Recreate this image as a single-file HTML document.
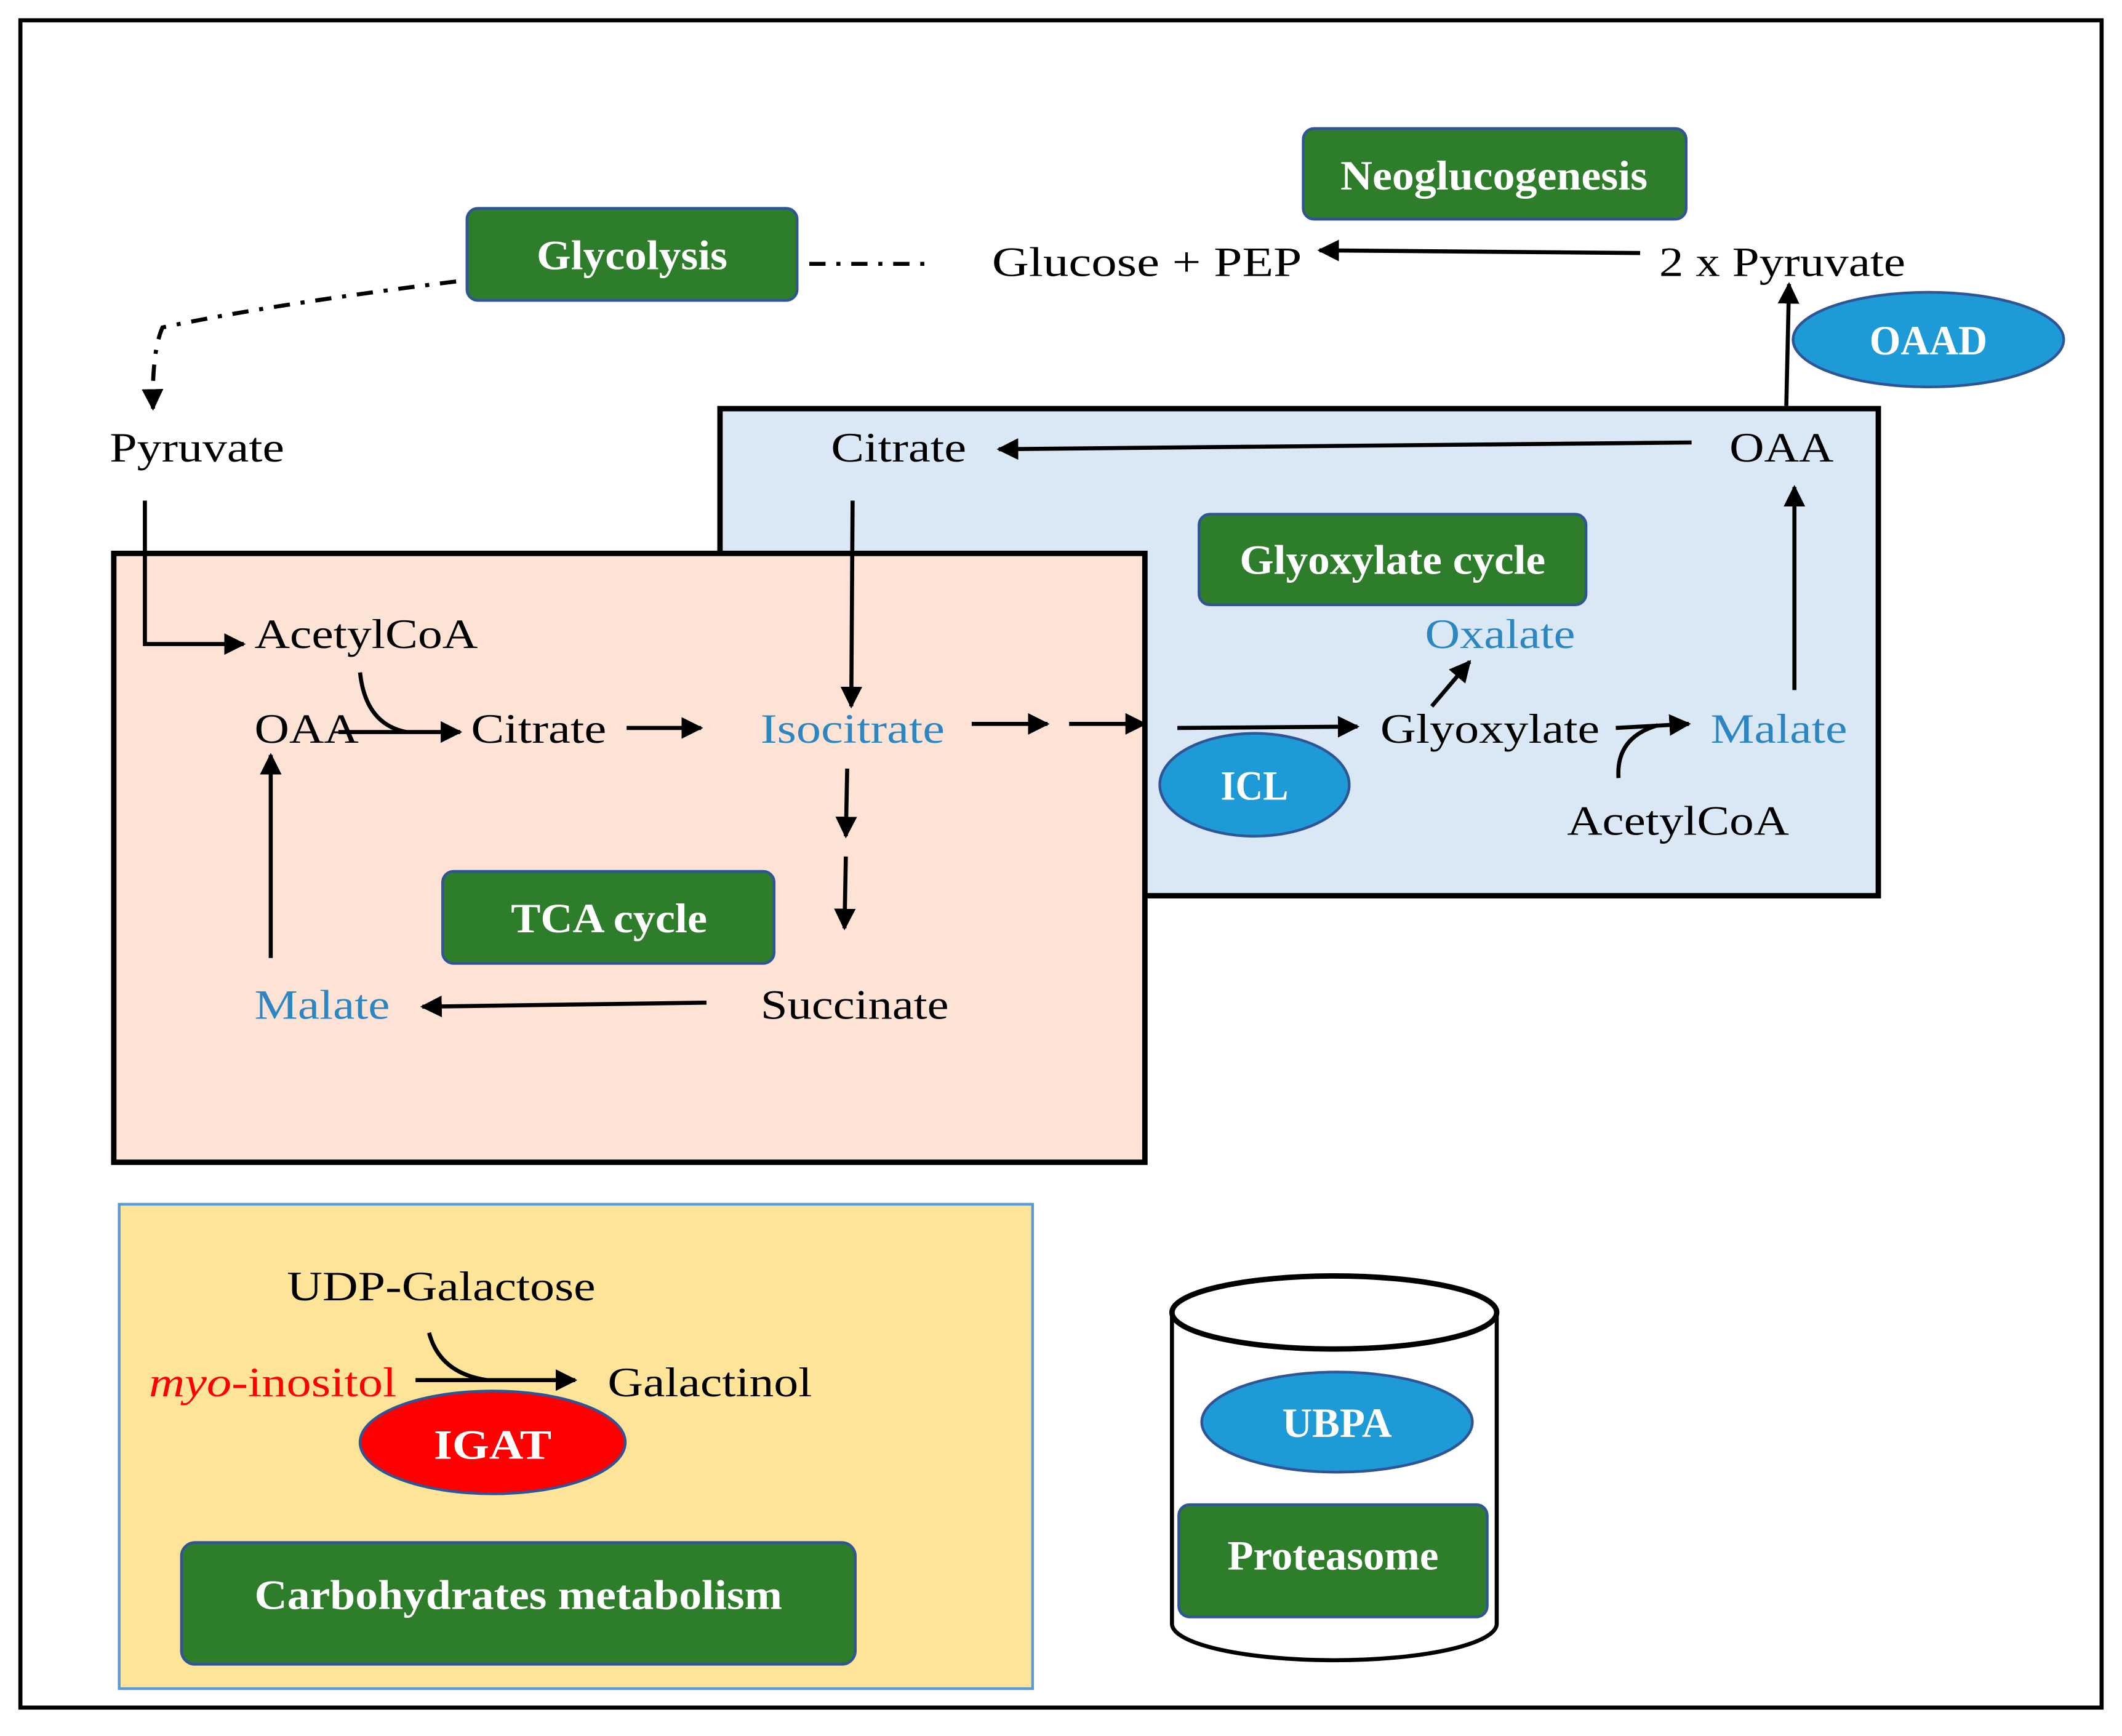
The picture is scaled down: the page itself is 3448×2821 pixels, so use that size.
<!DOCTYPE html>
<html><head><meta charset="utf-8"><style>html,body{margin:0;padding:0;background:#fff}svg{display:block}</style></head>
<body>
<svg xmlns="http://www.w3.org/2000/svg" width="3448" height="2821" viewBox="0 0 1568 1283" font-family="'Liberation Serif', serif">
<defs>
<marker id="b" viewBox="0 0 10 10" refX="9" refY="5" markerWidth="16" markerHeight="16" orient="auto" markerUnits="userSpaceOnUse"><path d="M0,0 L10,5 L0,10 z" fill="#000"/></marker>
</defs>
<rect x="0" y="0" width="1568" height="1283" fill="#fff"/>
<rect x="15" y="15" width="1538" height="1247" fill="none" stroke="#000" stroke-width="3"/>
<rect x="532" y="302" width="856" height="360" fill="#dae8f5" stroke="#000" stroke-width="4"/>
<rect x="84" y="409" width="762" height="450" fill="#fde3d5" stroke="#000" stroke-width="4"/>
<rect x="88" y="890" width="675" height="358" fill="#fee498" stroke="#5b9bd5" stroke-width="2"/>
<g fill="#2e7d2a" stroke="#2f5597" stroke-width="2">
<rect x="963" y="95" width="283" height="67" rx="8"/>
<rect x="345" y="154" width="244" height="68" rx="8"/>
<rect x="886" y="380" width="286" height="67" rx="8"/>
<rect x="327" y="644" width="245" height="68" rx="8"/>
<rect x="134" y="1140" width="498" height="90" rx="10"/>
</g>
<path d="M866,970 L866,1200 A120,27 0 0 0 1106,1200 L1106,970" fill="#fff" stroke="#000" stroke-width="3"/>
<ellipse cx="986" cy="970" rx="120" ry="27" fill="#fff" stroke="#000" stroke-width="4"/>
<rect x="871" y="1112" width="228" height="83" rx="8" fill="#2e7d2a" stroke="#2f5597" stroke-width="2"/>
<g fill="#1e9ad6" stroke="#2f5597" stroke-width="2">
<ellipse cx="1425" cy="251" rx="100" ry="35"/>
<ellipse cx="927" cy="580" rx="70" ry="38"/>
<ellipse cx="988" cy="1051" rx="100" ry="37"/>
</g>
<ellipse cx="364" cy="1066" rx="98" ry="38" fill="#ff0000" stroke="#2f5597" stroke-width="2"/>
<g stroke="#000" stroke-width="3" fill="none">
<path d="M598,195 L690,195" stroke-dasharray="12,8,3,8"/>
<path d="M337,208 Q200,225 120,242 Q112,260 113,302" stroke-dasharray="12,8,3,8" marker-end="url(#b)"/>
<path d="M1212,187 L975,185" marker-end="url(#b)"/>
<path d="M1320,300 L1322,210" marker-end="url(#b)"/>
<path d="M1250,327 L738,332" marker-end="url(#b)"/>
<path d="M1326,510 L1326,360" marker-end="url(#b)"/>
<path d="M107,370 L107,476 L180,476" marker-end="url(#b)"/>
<path d="M630,370 L629,522" marker-end="url(#b)"/>
<path d="M266,497 Q270,535 300,541"/>
<path d="M250,541 L340,541" marker-end="url(#b)"/>
<path d="M463,538 L518,538" marker-end="url(#b)"/>
<path d="M718,535 L774,535" marker-end="url(#b)"/>
<path d="M790,535 L846,535" marker-end="url(#b)"/>
<path d="M870,538 L1003,537" marker-end="url(#b)"/>
<path d="M1058,522 L1086,489" marker-end="url(#b)"/>
<path d="M1194,538 L1248,535" marker-end="url(#b)"/>
<path d="M1196,575 Q1194,545 1225,536"/>
<path d="M626,568 L625,618" marker-end="url(#b)"/>
<path d="M625,633 L624,686" marker-end="url(#b)"/>
<path d="M522,741 L312,744" marker-end="url(#b)"/>
<path d="M200,708 L200,558" marker-end="url(#b)"/>
<path d="M317,985 Q325,1015 360,1020"/>
<path d="M307,1020 L425,1020" marker-end="url(#b)"/>
</g>
<g font-size="31" fill="#000">
<text x="733" y="204" textLength="229" lengthAdjust="spacingAndGlyphs">Glucose  + PEP</text>
<text x="1226" y="204" textLength="182" lengthAdjust="spacingAndGlyphs">2 x Pyruvate</text>
<text x="81" y="341" textLength="129" lengthAdjust="spacingAndGlyphs">Pyruvate</text>
<text x="614" y="341" textLength="100" lengthAdjust="spacingAndGlyphs">Citrate</text>
<text x="1278" y="341" textLength="77" lengthAdjust="spacingAndGlyphs">OAA</text>
<text x="188" y="479" textLength="165" lengthAdjust="spacingAndGlyphs">AcetylCoA</text>
<text x="188" y="549" textLength="77" lengthAdjust="spacingAndGlyphs">OAA</text>
<text x="348" y="549" textLength="100" lengthAdjust="spacingAndGlyphs">Citrate</text>
<text x="562" y="549" fill="#2e86c1" textLength="136" lengthAdjust="spacingAndGlyphs">Isocitrate</text>
<text x="1020" y="549" textLength="162" lengthAdjust="spacingAndGlyphs">Glyoxylate</text>
<text x="1264" y="549" fill="#2e86c1" textLength="101" lengthAdjust="spacingAndGlyphs">Malate</text>
<text x="1053" y="479" fill="#2e86c1" textLength="111" lengthAdjust="spacingAndGlyphs">Oxalate</text>
<text x="1158" y="617" textLength="164" lengthAdjust="spacingAndGlyphs">AcetylCoA</text>
<text x="188" y="753" fill="#2e86c1" textLength="100" lengthAdjust="spacingAndGlyphs">Malate</text>
<text x="562" y="753" textLength="139" lengthAdjust="spacingAndGlyphs">Succinate</text>
<text x="212" y="961" textLength="228" lengthAdjust="spacingAndGlyphs">UDP-Galactose</text>
<text x="110" y="1032" fill="#ff0000" textLength="183" lengthAdjust="spacingAndGlyphs"><tspan font-style="italic">myo</tspan>-inositol</text>
<text x="449" y="1032" textLength="151" lengthAdjust="spacingAndGlyphs">Galactinol</text>
</g>
<g font-size="31" fill="#fff" text-anchor="middle" font-weight="bold">
<text x="1104" y="140" textLength="227" lengthAdjust="spacingAndGlyphs">Neoglucogenesis</text>
<text x="467" y="199" textLength="141" lengthAdjust="spacingAndGlyphs">Glycolysis</text>
<text x="1029" y="424" textLength="226" lengthAdjust="spacingAndGlyphs">Glyoxylate cycle</text>
<text x="450" y="689" textLength="145" lengthAdjust="spacingAndGlyphs">TCA cycle</text>
<text x="383" y="1189" textLength="390" lengthAdjust="spacingAndGlyphs">Carbohydrates metabolism</text>
<text x="985" y="1160" textLength="156" lengthAdjust="spacingAndGlyphs">Proteasome</text>
<text x="1425" y="262" textLength="87" lengthAdjust="spacingAndGlyphs">OAAD</text>
<text x="927" y="591" textLength="50" lengthAdjust="spacingAndGlyphs">ICL</text>
<text x="988" y="1062" textLength="81" lengthAdjust="spacingAndGlyphs">UBPA</text>
<text x="364" y="1078" textLength="87" lengthAdjust="spacingAndGlyphs">IGAT</text>
</g>
</svg>
</body></html>
